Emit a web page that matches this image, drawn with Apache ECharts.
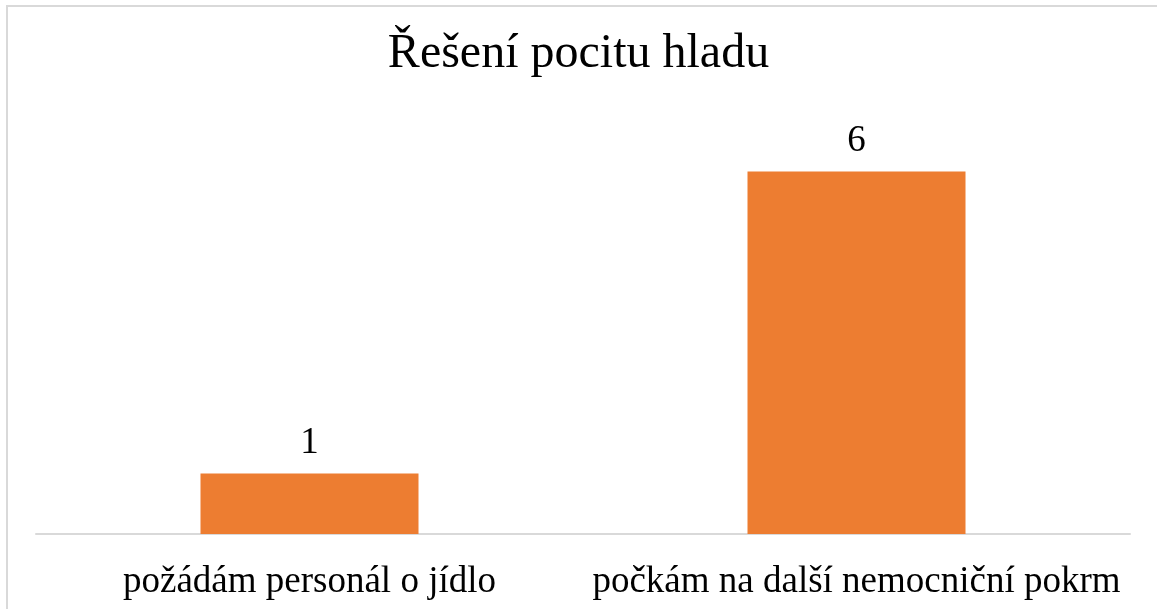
<!DOCTYPE html>
<html>
<head>
<meta charset="utf-8">
<script src="https://cdn.jsdelivr.net/npm/echarts@6/dist/echarts.min.js"></script>
<style>
  html, body { margin: 0; padding: 0; background: #fff; overflow: hidden; }
  #frame {
    position: absolute; left: 6px; top: 5px; width: 1170px; height: 620px;
    border-left: 2px solid #d9d9d9; border-top: 2px solid #d9d9d9;
  }
  #chart { position: absolute; left: 0; top: 0; width: 1157px; height: 609px; }
</style>
</head>
<body>
<div id="frame"></div>
<div id="chart"></div>
<script>
// data
var categories = ['požádám personál o jídlo', 'počkám na další nemocniční pokrm'];
var values = [1, 6];

var serif = '"Liberation Serif", "Times New Roman", serif';
var myChart = echarts.init(document.getElementById('chart'));

var option = {
  animation: false,
  title: {
    text: 'Řešení pocitu hladu',
    left: 'center',
    top: 25,
    textStyle: { fontFamily: serif, fontSize: 48, fontWeight: 'normal', color: '#000' }
  },
  grid: { left: 36, right: 27, top: 111, bottom: 75, containLabel: false },
  xAxis: {
    type: 'category',
    data: categories,
    axisLine: { lineStyle: { color: '#d9d9d9', width: 2 } },
    axisTick: { show: false },
    axisLabel: { fontFamily: serif, fontSize: 37, color: '#000', margin: 30, interval: 0 }
  },
  yAxis: {
    type: 'value',
    min: 0,
    max: 7,
    interval: 1,
    show: false,
    splitLine: { show: false }
  },
  series: [{
    type: 'bar',
    data: values,
    barWidth: 218,
    itemStyle: { color: '#ed7d31' },
    label: {
      show: true,
      position: 'top',
      distance: 12,
      fontFamily: serif,
      fontSize: 37,
      color: '#000'
    }
  }]
};
myChart.setOption(option);
</script>
</body>
</html>
